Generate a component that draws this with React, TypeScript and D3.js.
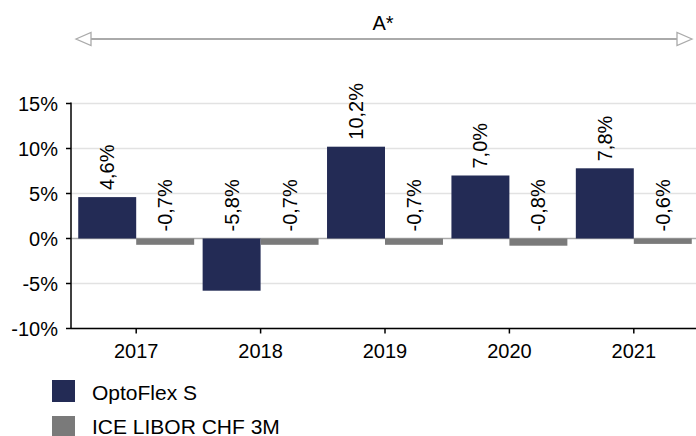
import React from "react";
import * as d3 from "d3";

const categories = ["2017", "2018", "2019", "2020", "2021"];
const fundValues = [4.6, -5.8, 10.2, 7.0, 7.8];
const benchValues = [-0.7, -0.7, -0.7, -0.8, -0.6];
const seriesNames = ["OptoFlex S", "ICE LIBOR CHF 3M"];
const yTicks = [-10, -5, 0, 5, 10, 15];
const periodLabel = "A*";

const W = 696;
const H = 436;
const FONT = "'Liberation Sans', Arial, sans-serif";
const BLUE = "#232b55";
const GREY = "#7a7a7a";

export default function App() {
  const left = 71;
  const right = 696;
  const y = d3.scaleLinear().domain([-10, 15]).range([328.5, 103.5]);
  const x = d3.scaleBand().domain(categories).range([74, 696]).paddingInner(0.068).paddingOuter(0.034);
  const sub = d3.scaleBand().domain(["f", "b"]).range([0, x.bandwidth()]);
  const fmt = (v: number) => v.toFixed(1).replace(".", ",") + "%";
  const fs = 20;

  return (
    <svg width={W} height={H} style={{ position: "absolute", left: 0, top: 0, background: "#fff" }} fontFamily={FONT}>
      {/* period arrow */}
      <text x={383} y={30} fontSize={fs} textAnchor="middle" fill="#000">{periodLabel}</text>
      <line x1={90} x2={677} y1={39} y2={39} stroke="#aaa" strokeWidth={2} />
      <path d="M76,39 L91,32.5 L91,45.5 Z" fill="#fff" stroke="#aaa" strokeWidth={1.3} />
      <path d="M692,39 L677,32.5 L677,45.5 Z" fill="#fff" stroke="#aaa" strokeWidth={1.3} />

      {/* gridlines */}
      {yTicks.map((t) => (
        <line key={t} x1={left} x2={right} y1={y(t)} y2={y(t)} stroke={t === 0 ? "#aaa" : "#e2e2e2"} strokeWidth={1.5} />
      ))}

      {/* bars */}
      {categories.map((c, i) => {
        const x0 = x(c)!;
        const fv = fundValues[i];
        const bv = benchValues[i];
        return (
          <g key={c}>
            <rect x={x0 + sub("f")!} width={sub.bandwidth()} y={y(Math.max(0, fv))} height={Math.abs(y(fv) - y(0))} fill={BLUE} />
            <rect x={x0 + sub("b")!} width={sub.bandwidth()} y={y(Math.max(0, bv))} height={Math.abs(y(bv) - y(0))} fill={GREY} />
            {[{ v: fv, k: "f" }, { v: bv, k: "b" }].map(({ v, k }) => {
              const cx = x0 + sub(k)! + sub.bandwidth() / 2;
              const ty = y(Math.max(0, v)) - 7;
              return (
                <text key={k} transform={`translate(${cx + 7},${ty}) rotate(-90)`} fontSize={fs} fill="#000">
                  {fmt(v)}
                </text>
              );
            })}
          </g>
        );
      })}

      {/* axes */}
      <line x1={left} x2={left} y1={y(15) - 1} y2={y(-10)} stroke="#000" strokeWidth={1.5} />
      <line x1={left} x2={right} y1={y(-10)} y2={y(-10)} stroke="#000" strokeWidth={1.5} />
      {yTicks.map((t) => (
        <g key={t}>
          <line x1={left - 5} x2={left} y1={y(t)} y2={y(t)} stroke="#000" strokeWidth={1.5} />
          <text x={left - 13} y={y(t) + 7} fontSize={fs} textAnchor="end" fill="#000">{t}%</text>
        </g>
      ))}
      {categories.map((c) => {
        const cx = x(c)! + x.bandwidth() / 2;
        return (
          <g key={c}>
            <line x1={cx} x2={cx} y1={y(-10)} y2={y(-10) + 5} stroke="#000" strokeWidth={1.5} />
            <text x={cx} y={y(-10) + 29} fontSize={fs} textAnchor="middle" fill="#000">{c}</text>
          </g>
        );
      })}

      {/* legend */}
      {seriesNames.map((n, i) => (
        <g key={n}>
          <rect x={52} y={380 + i * 36} width={23} height={22} fill={i === 0 ? BLUE : GREY} />
          <text x={92} y={400 + i * 34} fontSize={21} fill="#000">{n}</text>
        </g>
      ))}
    </svg>
  );
}
